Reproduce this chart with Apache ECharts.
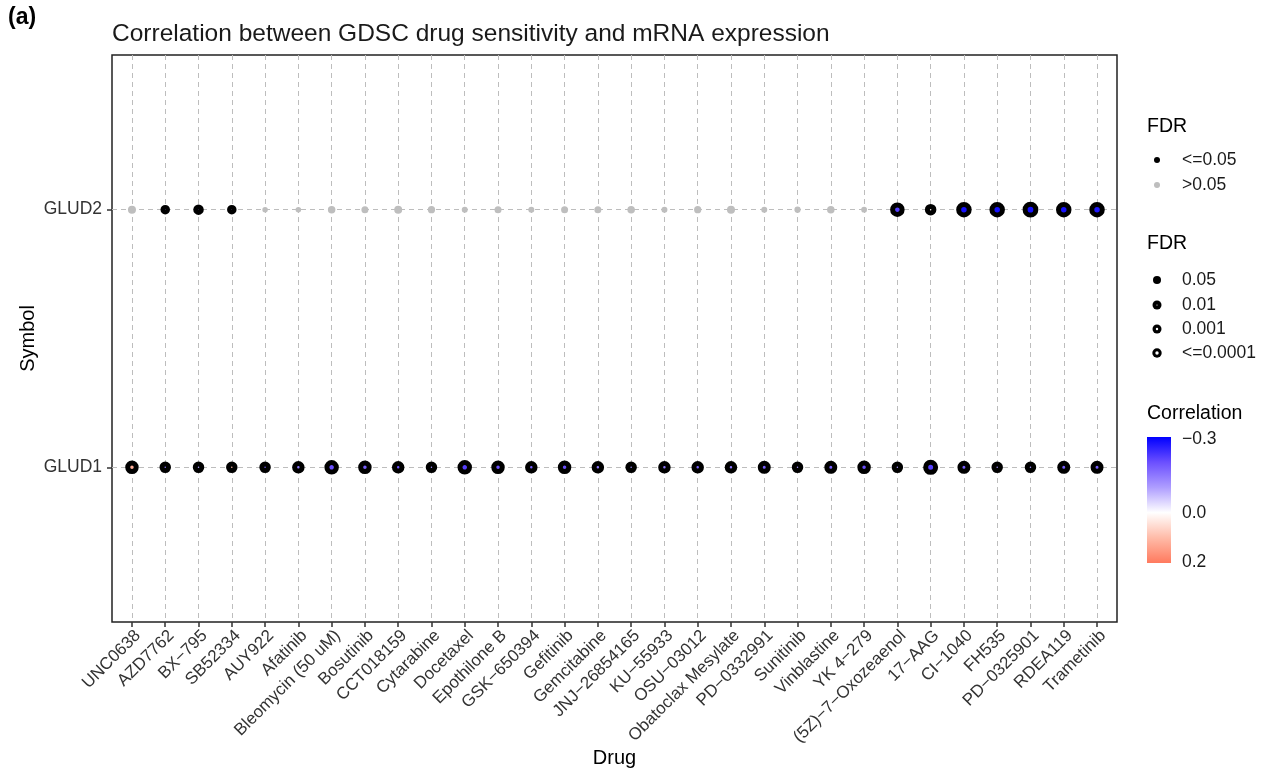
<!DOCTYPE html>
<html><head><meta charset="utf-8">
<script src="https://cdn.jsdelivr.net/npm/echarts@6/dist/echarts.min.js"></script>
<style>html,body{margin:0;padding:0;background:#fff}#c{width:1264px;height:772px}</style>
</head><body><div id="c"></div>
<script>
const drugs = ['UNC0638','AZD7762','BX\u2212795','SB52334','AUY922','Afatinib','Bleomycin (50 uM)','Bosutinib','CCT018159','Cytarabine','Docetaxel','Epothilone B','GSK\u2212650394','Gefitinib','Gemcitabine','JNJ\u221226854165','KU\u221255933','OSU\u221203012','Obatoclax Mesylate','PD\u22120332991','Sunitinib','Vinblastine','YK 4\u2212279','(5Z)\u22127\u2212Oxozeaenol','17\u2212AAG','CI\u22121040','FH535','PD\u22120325901','RDEA119','Trametinib'];
const symbols = ['GLUD1','GLUD2'];
// correlation (fill colour) and -log10(FDR) (point size) per drug
const glud1Cor = [0.12,-0.15,-0.10,0.10,-0.18,-0.15,-0.20,-0.18,-0.20,-0.12,-0.22,-0.20,-0.18,-0.20,-0.15,-0.12,-0.15,-0.18,-0.15,-0.18,-0.12,-0.18,-0.20,-0.12,-0.22,-0.18,-0.12,-0.12,-0.18,-0.18];
const glud1LogFdr = [3.6,2.8,2.8,2.8,2.8,3.2,4.0,3.6,3.2,2.8,4.0,3.6,3.2,3.6,3.2,2.8,3.2,3.2,3.2,3.4,2.8,3.4,3.6,2.8,4.2,3.4,2.8,2.8,3.4,3.4];
const glud2Cor = [0.05,-0.10,-0.12,-0.10,0.02,0.03,-0.05,-0.05,-0.06,-0.05,0.02,-0.05,0.02,-0.04,-0.05,-0.06,0.02,-0.05,-0.06,0.02,0.02,-0.05,0.02,-0.22,0.02,-0.28,-0.28,-0.28,-0.28,-0.27];
const glud2LogFdr = [1.2,2.0,2.4,2.0,0.2,0.2,1.0,0.8,1.2,0.9,0.4,0.8,0.4,0.8,0.8,1.0,0.4,0.9,1.2,0.4,0.5,1.0,0.3,4.0,2.8,4.4,4.4,4.5,4.4,4.4];
const corTicks = [-0.3, 0.0, 0.2];
const fdrSigLabels = ['<=0.05', '>0.05'];
const fdrSizeLabels = ['0.05', '0.01', '0.001', '<=0.0001'];

const SIG = -Math.log10(0.05);
const sigData = [], nsData = [];
const genes = [glud1Cor, glud2Cor], genesL = [glud1LogFdr, glud2LogFdr];
for (let g = 0; g < 2; g++) {
  for (let i = 0; i < drugs.length; i++) {
    const p = [i + 1, g + 1, genes[g][i], genesL[g][i]];
    (p[3] >= SIG ? sigData : nsData).push(p);
  }
}
const corColors = ['#0000FF', '#6B4FFF', '#AE9DFF', '#FFFFFF', '#FFBBA8', '#FF7A5E'];
const FONT = '"Liberation Sans", Arial, sans-serif';
const idx = drugs.map((d, i) => i + 1);

const chart = echarts.init(document.getElementById('c'), null, {renderer: 'canvas'});
const lx = 1157, tx = 1182;
const graphic = [
  {type: 'text', left: 8, top: 6, style: {text: '(a)', font: 'bold 23px ' + FONT, fill: '#000'}},
  {type: 'text', left: 112, top: 22, style: {text: 'Correlation between GDSC drug sensitivity and mRNA expression', font: '24.5px ' + FONT, fill: '#1a1a1a'}},
  {type: 'text', left: 1147, top: 117, style: {text: 'FDR', font: '19.5px ' + FONT, fill: '#000'}},
  {type: 'circle', shape: {cx: lx, cy: 160, r: 3}, style: {fill: '#000'}},
  {type: 'circle', shape: {cx: lx, cy: 185, r: 3}, style: {fill: '#BEBEBE'}},
  {type: 'text', x: tx, y: 160, style: {text: fdrSigLabels[0], font: '17.5px ' + FONT, fill: '#1a1a1a', verticalAlign: 'middle'}},
  {type: 'text', x: tx, y: 185, style: {text: fdrSigLabels[1], font: '17.5px ' + FONT, fill: '#1a1a1a', verticalAlign: 'middle'}},
  {type: 'text', left: 1147, top: 234, style: {text: 'FDR', font: '19.5px ' + FONT, fill: '#000'}},
  {type: 'text', left: 1147, top: 404, style: {text: 'Correlation', font: '19.5px ' + FONT, fill: '#000'}},
  {type: 'rect', shape: {x: 1147, y: 437, width: 24, height: 126}, style: {fill: new echarts.graphic.LinearGradient(0, 0, 0, 1, corColors.map((c, i) => ({offset: i / (corColors.length - 1), color: c})))}}
];
const sizeRows = [[280, 4, 0], [305, 4.5, 0.6], [329, 4.5, 1.2], [353, 4.7, 1.7]];
sizeRows.forEach((r, k) => {
  graphic.push({type: 'circle', shape: {cx: lx, cy: r[0], r: r[1]}, style: {fill: '#000'}});
  if (r[2] > 0) graphic.push({type: 'circle', shape: {cx: lx, cy: r[0], r: r[2]}, style: {fill: '#fff'}});
  graphic.push({type: 'text', x: tx, y: r[0], style: {text: fdrSizeLabels[k], font: '17.5px ' + FONT, fill: '#1a1a1a', verticalAlign: 'middle'}});
});
corTicks.forEach(v => {
  const y = 439 + (v - (-0.3)) / 0.5 * 123;
  graphic.push({type: 'text', x: tx, y: y, style: {text: v.toFixed(1).replace('-', '\u2212'), font: '17.5px ' + FONT, fill: '#1a1a1a', verticalAlign: 'middle'}});
});

const splitLine = {show: true, lineStyle: {color: '#BDBDBD', width: 1, type: [5, 4]}};
chart.setOption({
  animation: false,
  backgroundColor: '#fff',
  textStyle: {fontFamily: FONT},
  grid: {left: 112, top: 55, right: 147, bottom: 150, outerBoundsMode: 'none', containLabel: false, show: true, borderColor: '#222', borderWidth: 1.5, backgroundColor: 'transparent'},
  graphic: graphic,
  xAxis: {
    type: 'value', min: 0.4, max: drugs.length + 0.6,
    name: 'Drug', nameLocation: 'middle', nameGap: 126, nameMoveOverlap: false,
    nameTextStyle: {fontSize: 20, color: '#000', fontFamily: FONT},
    axisLine: {show: false},
    axisTick: {show: true, customValues: idx, length: 5, lineStyle: {color: '#333', width: 1.5}},
    axisLabel: {customValues: idx, formatter: v => drugs[Math.round(v) - 1], rotate: 45, verticalAlign: 'top', fontSize: 17, color: '#333', fontFamily: FONT, margin: 5},
    splitLine: splitLine
  },
  yAxis: {
    type: 'value', min: 0.4, max: 2.6,
    name: 'Symbol', nameLocation: 'middle', nameGap: 74, nameRotate: 90, nameMoveOverlap: false,
    nameTextStyle: {fontSize: 20, color: '#000', fontFamily: FONT},
    axisLine: {show: false},
    axisTick: {show: true, customValues: [1, 2], length: 5, lineStyle: {color: '#333', width: 1.5}},
    axisLabel: {customValues: [1, 2], formatter: v => symbols[Math.round(v) - 1], fontSize: 17.5, color: '#333', fontFamily: FONT, margin: 10},
    splitLine: splitLine
  },
  visualMap: {type: 'continuous', show: false, seriesIndex: 0, dimension: 2, min: -0.3, max: 0.2, inRange: {color: corColors}},
  series: [
    {type: 'scatter', data: sigData, symbol: 'circle',
     symbolSize: v => Math.max(4.5 + 2.5 * v[3] - 5, 1),
     itemStyle: {borderColor: '#000', borderWidth: 5, opacity: 1}, z: 3},
    {type: 'scatter', data: nsData, symbol: 'circle',
     symbolSize: v => 5 + 2.5 * v[3],
     itemStyle: {color: '#BEBEBE', opacity: 1}, z: 2}
  ]
});
</script></body></html>
